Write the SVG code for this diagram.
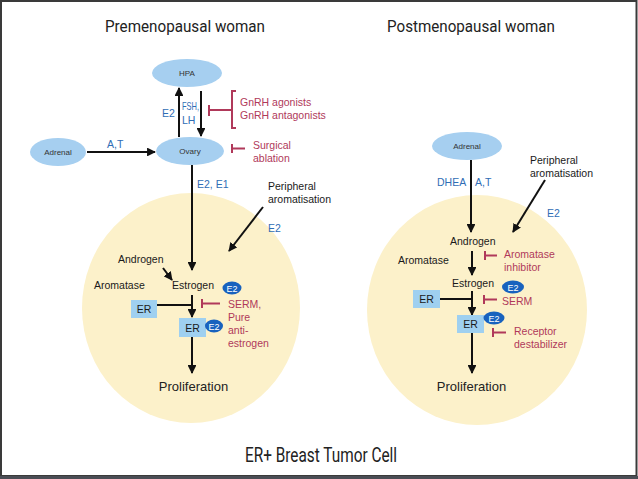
<svg xmlns="http://www.w3.org/2000/svg" width="638" height="479" viewBox="0 0 638 479">
<defs>
<marker id="ah" viewBox="0 0 10 10" refX="9" refY="5" markerWidth="4.4" markerHeight="4.4" orient="auto" markerUnits="strokeWidth">
<path d="M0,0 L10,5 L0,10 z" fill="#111"/>
</marker>
<style>
.t{font-family:"Liberation Sans",Arial,sans-serif;fill:#222}
.title{font-family:Roboto,"Liberation Sans",sans-serif;fill:#222}
.node{fill:#A6CFF0}
.nlab{font-family:"Liberation Sans",Arial,sans-serif;font-size:8px;fill:#333;text-anchor:middle}
.blue{font-family:"Liberation Sans",Arial,sans-serif;font-size:10.5px;fill:#2F6DB5}
.red{font-family:"Liberation Sans",Arial,sans-serif;font-size:10.5px;fill:#B0395A}
.lbl{font-family:"Liberation Sans",Arial,sans-serif;font-size:10.5px;fill:#1a1a1a}
.er{fill:#9FD0F0}
.e2{fill:#1862BE}
.e2t{font-family:"Liberation Sans",Arial,sans-serif;font-size:9px;fill:#fff;text-anchor:middle}
.ln{stroke:#111;stroke-width:2;fill:none}
.arr{stroke:#111;stroke-width:2;fill:none;marker-end:url(#ah)}
.inh{stroke:#B0395A;stroke-width:2;fill:none}
.cell{fill:#FCF1CA}
</style>
</defs>
<rect x="0" y="0" width="638" height="479" fill="#fff"/>
<rect x="1" y="1" width="635.5" height="475" fill="none" stroke="#3a3a3a" stroke-width="2"/>
<rect x="0" y="476" width="638" height="3" fill="#4a4d55"/>

<text class="title" x="105" y="32" font-size="17" textLength="160" lengthAdjust="spacingAndGlyphs">Premenopausal woman</text>
<text class="title" x="387" y="32" font-size="17" textLength="168" lengthAdjust="spacingAndGlyphs">Postmenopausal woman</text>
<text class="title" x="245" y="462" font-size="20" textLength="152" lengthAdjust="spacingAndGlyphs">ER+ Breast Tumor Cell</text>

<g id="cell-left"><ellipse class="cell" cx="191" cy="308" rx="109" ry="115"/></g>
<g id="cell-right"><ellipse class="cell" cx="477" cy="310" rx="110" ry="115"/></g>

<g id="connectors">
<line class="arr" x1="179" y1="137" x2="179" y2="88"/>
<line class="arr" x1="201" y1="91" x2="201" y2="136"/>
<line class="arr" x1="87" y1="152" x2="155" y2="152"/>
<line class="arr" x1="192" y1="165" x2="192" y2="270"/>
<line class="arr" x1="263" y1="207" x2="229" y2="251"/>
<line class="arr" x1="163" y1="268" x2="172" y2="280"/>
<line class="ln" x1="157" y1="305" x2="193" y2="305"/>
<line class="arr" x1="192" y1="295" x2="192" y2="317"/>
<line class="arr" x1="192" y1="337" x2="192" y2="373"/>

<line class="arr" x1="471" y1="160" x2="471" y2="232"/>
<line class="arr" x1="545" y1="180" x2="513" y2="232"/>
<line class="arr" x1="472" y1="251" x2="472" y2="275"/>
<line class="ln" x1="440" y1="299" x2="473" y2="299"/>
<line class="arr" x1="472" y1="291" x2="472" y2="315"/>
<line class="arr" x1="472" y1="333" x2="472" y2="373"/>

<path class="inh" d="M209,105 V116 M209,110 H232 M236,91 H232 V128 H236"/>
<path class="inh" d="M232,144 V153 M232,148.5 H245"/>
<path class="inh" d="M202,299 V308 M202,303.5 H220"/>
<path class="inh" d="M485,251 V260 M485,255.5 H497"/>
<path class="inh" d="M484,295 V304 M484,299.5 H497"/>
<path class="inh" d="M493,328 V337 M493,332.5 H506"/>
</g>

<g id="hpa"><ellipse class="node" cx="187" cy="73" rx="35" ry="14"/><text class="nlab" x="187" y="76">HPA</text></g>
<g id="ovary"><ellipse class="node" cx="190" cy="151" rx="34" ry="14"/><text class="nlab" x="190" y="154">Ovary</text></g>
<g id="adrenal-left"><ellipse class="node" cx="58" cy="152" rx="28" ry="14"/><text class="nlab" x="58" y="155">Adrenal</text></g>
<g id="adrenal-right"><ellipse class="node" cx="467" cy="146" rx="35" ry="14"/><text class="nlab" x="467" y="149">Adrenal</text></g>

<g id="labels-left">
<text class="blue" x="162" y="117">E2</text>
<text class="blue" x="182" y="110" font-size="9" textLength="17" lengthAdjust="spacingAndGlyphs">FSH,</text>
<text class="blue" x="182" y="124" font-size="9">LH</text>
<text class="red" x="240" y="106">GnRH agonists</text>
<text class="red" x="240" y="119">GnRH antagonists</text>
<text class="red" x="253" y="149">Surgical</text>
<text class="red" x="253" y="162">ablation</text>
<text class="blue" x="107" y="148">A,T</text>
<text class="blue" x="197" y="188">E2, E1</text>
<text class="lbl" x="268" y="190">Peripheral</text>
<text class="lbl" x="268" y="203">aromatisation</text>
<text class="blue" x="268" y="232">E2</text>
</g>

<g id="androgen-left"><text class="lbl" x="118" y="263">Androgen</text></g>
<g id="aromatase-left"><text class="lbl" x="94" y="289">Aromatase</text></g>
<g id="estrogen-left"><text class="lbl" x="172" y="289">Estrogen</text>
<ellipse class="e2" cx="232" cy="288" rx="9.5" ry="6.5"/><text class="e2t" x="232" y="291.5">E2</text></g>
<g id="er1-left"><rect class="er" x="131" y="300" width="26" height="18"/><text class="lbl" x="144" y="313" text-anchor="middle">ER</text></g>
<g id="er2-left"><rect class="er" x="179" y="318" width="27" height="19"/><text class="lbl" x="192.5" y="331.5" text-anchor="middle">ER</text>
<ellipse class="e2" cx="214" cy="326" rx="9" ry="6.5"/><text class="e2t" x="214" y="329.5">E2</text></g>
<g id="serm-left">
<text class="red" x="228" y="308">SERM,</text>
<text class="red" x="228" y="321">Pure</text>
<text class="red" x="228" y="334">anti-</text>
<text class="red" x="228" y="347">estrogen</text>
</g>
<g id="prolif-left"><text class="t" x="193.5" y="391" font-size="13" text-anchor="middle">Proliferation</text></g>

<g id="labels-right">
<text class="blue" x="437" y="186">DHEA</text>
<text class="blue" x="475" y="186">A,T</text>
<text class="lbl" x="530" y="164">Peripheral</text>
<text class="lbl" x="530" y="177">aromatisation</text>
<text class="blue" x="547" y="217">E2</text>
</g>
<g id="androgen-right"><text class="lbl" x="450" y="245">Androgen</text></g>
<g id="aromatase-right"><text class="lbl" x="398" y="264">Aromatase</text></g>
<g id="ai-right"><text class="red" x="504" y="258">Aromatase</text><text class="red" x="504" y="271">inhibitor</text></g>
<g id="estrogen-right"><text class="lbl" x="452" y="287">Estrogen</text>
<ellipse class="e2" cx="513" cy="287" rx="11" ry="6.5"/><text class="e2t" x="513" y="290.5">E2</text></g>
<g id="er1-right"><rect class="er" x="413" y="290" width="27" height="18"/><text class="lbl" x="426.5" y="303" text-anchor="middle">ER</text></g>
<g id="serm-right"><text class="red" x="502" y="305">SERM</text></g>
<g id="er2-right"><rect class="er" x="457" y="315" width="27" height="18"/><text class="lbl" x="470.5" y="328" text-anchor="middle">ER</text>
<ellipse class="e2" cx="494" cy="318" rx="10.5" ry="6.5"/><text class="e2t" x="494" y="321.5">E2</text></g>
<g id="rd-right"><text class="red" x="514" y="335">Receptor</text><text class="red" x="514" y="348">destabilizer</text></g>
<g id="prolif-right"><text class="t" x="471.5" y="391" font-size="13" text-anchor="middle">Proliferation</text></g>
</svg>
